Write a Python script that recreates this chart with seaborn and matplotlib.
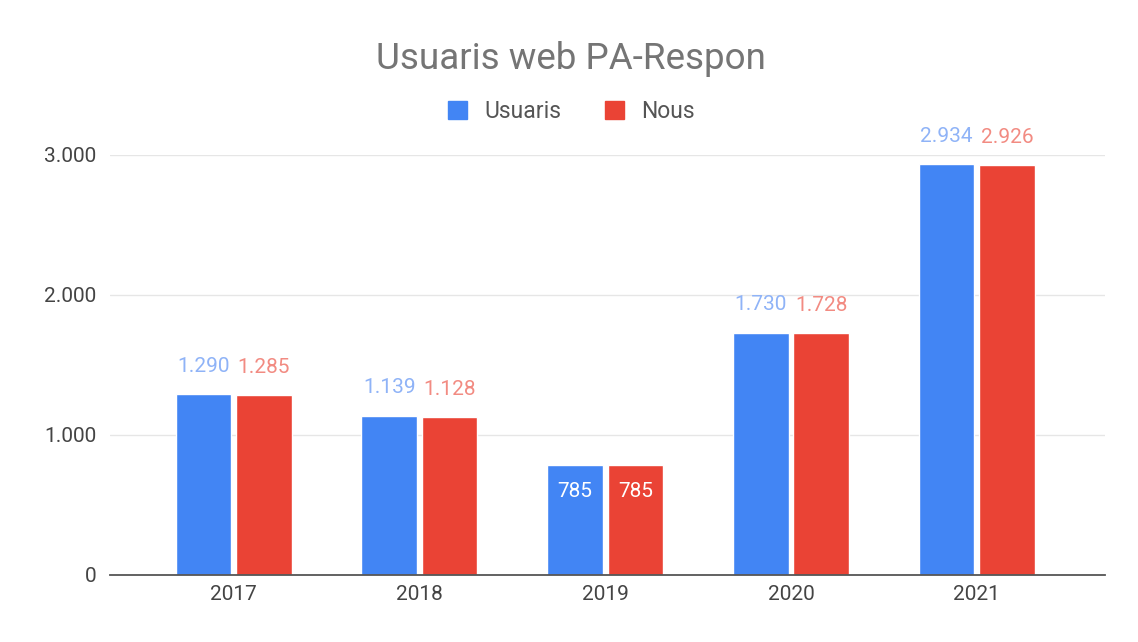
import matplotlib
matplotlib.use("Agg")
import matplotlib.pyplot as plt
from matplotlib.patches import Patch
import seaborn as sns
import pandas as pd

years = ["2017", "2018", "2019", "2020", "2021"]
usuaris = [1290, 1139, 785, 1730, 2934]
nous = [1285, 1128, 785, 1728, 2926]
series = ["Usuaris", "Nous"]
yticks = [0, 1000, 2000, 3000]

df = pd.DataFrame({
    "year": years * 2,
    "value": usuaris + nous,
    "series": [series[0]] * len(years) + [series[1]] * len(years),
})

sns.set_theme(style="white")
plt.rcParams["font.family"] = ["Roboto", "DejaVu Sans"]

BLUE = "#4285F4"
RED = "#EA4335"

fig = plt.figure(figsize=(11.38, 6.42), dpi=100)
ax = fig.add_axes([0.0967, 0.1044, 0.8743, 0.6542])

sns.barplot(data=df, x="year", y="value", hue="series", order=years,
            hue_order=series, palette=[BLUE, RED], width=0.65, gap=0.08,
            ax=ax, legend=False, saturation=1)

ax.set_ylim(0, 3000)
ax.set_xlim(-0.665, 4.69)
ax.set_yticks(yticks)
ax.set_yticklabels([f"{v:,}".replace(",", ".") for v in yticks])
ax.yaxis.grid(True, color="#e6e6e6", linewidth=1)
ax.set_axisbelow(True)
for s in ["top", "right", "left"]:
    ax.spines[s].set_visible(False)
ax.spines["bottom"].set_color("#555555")
ax.spines["bottom"].set_linewidth(1.3)
ax.tick_params(axis="both", length=0, labelsize=15, colors="#444444")
ax.tick_params(axis="y", pad=10)
ax.tick_params(axis="x", pad=7)
ax.set_xlabel("")
ax.set_ylabel("")

label_colors = ["#8fb3f7", "#f28b82"]
for ci, cont in enumerate(ax.containers):
    for bar in cont:
        h = bar.get_height()
        txt = f"{int(h):,}".replace(",", ".")
        x = bar.get_x() + bar.get_width() / 2
        if h < 1000:
            ax.annotate(txt, (x, h), xytext=(0, -19), textcoords="offset points",
                        ha="center", va="center", color="white", fontsize=15,
                        annotation_clip=False)
        else:
            ax.annotate(txt, (x, h), xytext=(0, 20), textcoords="offset points",
                        ha="center", va="center", color=label_colors[ci],
                        fontsize=15, annotation_clip=False)

fig.text(0.502, 0.908, "Usuaris web PA-Respon", ha="center", va="center",
         fontsize=26.5, color="#757575")

handles = [Patch(color=BLUE, label=series[0]), Patch(color=RED, label=series[1])]
fig.legend(handles=handles, loc="center", bbox_to_anchor=(0.502, 0.826), ncol=2,
           frameon=False, fontsize=16.5, handlelength=0.85, handleheight=0.85,
           handletextpad=0.75, columnspacing=1.9, labelcolor="#555555")

fig.savefig("out.png", dpi=100, facecolor="white")
